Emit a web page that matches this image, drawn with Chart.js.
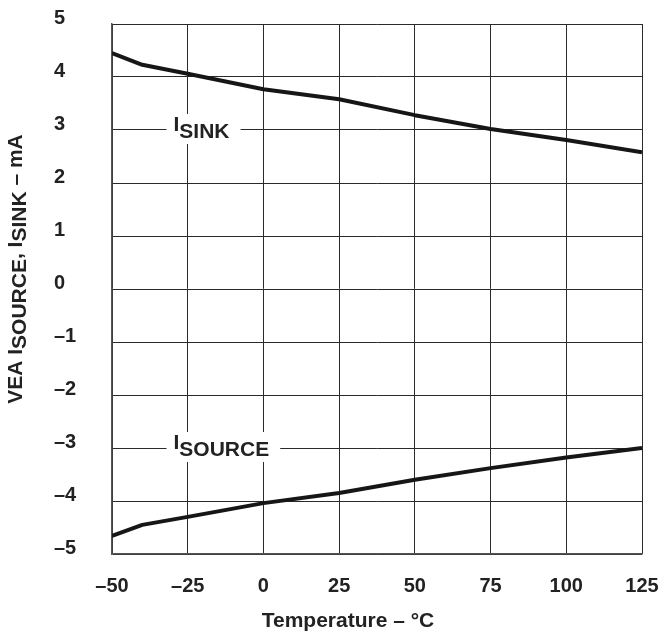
<!DOCTYPE html>
<html>
<head>
<meta charset="utf-8">
<script src="https://cdn.jsdelivr.net/npm/chart.js@4"></script>
<style>
  html, body { margin: 0; padding: 0; background: #fff; }
  #wrap { width: 662px; height: 633px; }
</style>
</head>
<body>
<div id="wrap"><canvas id="chart"></canvas></div>
<script>
// temperature in degC
const temps = [-50, -40, -25, 0, 25, 50, 75, 100, 125];
// VEA currents in mA
const sinkCurrent = [4.45, 4.23, 4.06, 3.77, 3.58, 3.28, 3.02, 2.81, 2.58];
const sourceCurrent = [-4.66, -4.45, -4.30, -4.04, -3.85, -3.60, -3.38, -3.18, -3.00];

const xTicks = [-50, -25, 0, 25, 50, 75, 100, 125];
const yTicks = [-5, -4, -3, -2, -1, 0, 1, 2, 3, 4, 5];

// in-plot labels: [main, subscript, x (degC), y (mA)]
const curveLabels = [
  ['I', 'SINK', -32, 3],
  ['I', 'SOURCE', -32, -3]
];

const FONT = '"Liberation Sans", Arial, sans-serif';

function pairs(ys) {
  return temps.map((t, i) => ({ x: t, y: ys[i] }));
}

// draws a run of [text, dy] parts starting at x
function drawParts(ctx, parts, x, y) {
  parts.forEach(([txt, dy]) => {
    ctx.fillText(txt, x, y + dy);
    x += ctx.measureText(txt).width;
  });
}

function partsWidth(ctx, parts) {
  return parts.reduce((w, p) => w + ctx.measureText(p[0]).width, 0);
}

const labelPlugin = {
  id: 'labels',
  beforeDatasetsDraw(chart) {
    const ctx = chart.ctx;
    const xs = chart.scales.x, ys = chart.scales.y;
    ctx.save();
    ctx.font = 'bold 21px ' + FONT;
    ctx.textBaseline = 'middle';
    ctx.textAlign = 'left';
    curveLabels.forEach(([main, sub, tx, ty]) => {
      const px = xs.getPixelForValue(tx);
      const py = ys.getPixelForValue(ty);
      const parts = [[main, -5], [sub, 2]];
      const w = partsWidth(ctx, parts);
      ctx.fillStyle = '#fff';
      ctx.fillRect(px, py - 16, w + 18, 30);
      ctx.fillStyle = '#222';
      drawParts(ctx, parts, px + 7, py);
    });
    ctx.restore();
  },
  afterDraw(chart) {
    const ctx = chart.ctx;
    const area = chart.chartArea;
    ctx.save();
    ctx.fillStyle = '#222';
    ctx.textBaseline = 'middle';
    ctx.font = 'bold 21px ' + FONT;

    // x axis title
    const xt = [['Temperature – °C', 0]];
    ctx.textAlign = 'left';
    drawParts(ctx, xt, 348 - partsWidth(ctx, xt) / 2, 621);

    // y axis title with subscripts
    const yt = [['VEA ', 0], ['I', 0], ['SOURCE', 4], [', ', 0], ['I', 0], ['SINK', 4], [' – mA', 0]];
    ctx.translate(16, (area.top + area.bottom) / 2 - 20);
    ctx.rotate(-Math.PI / 2);
    drawParts(ctx, yt, -partsWidth(ctx, yt) / 2, 0);
    ctx.restore();
  }
};

const lineStyle = {
  borderColor: '#161616',
  borderWidth: 4,
  borderJoinStyle: 'round',
  pointRadius: 0,
  fill: false,
  tension: 0
};

new Chart(document.getElementById('chart'), {
  type: 'line',
  data: {
    datasets: [
      Object.assign({ label: 'ISINK', data: pairs(sinkCurrent) }, lineStyle),
      Object.assign({ label: 'ISOURCE', data: pairs(sourceCurrent) }, lineStyle)
    ]
  },
  plugins: [labelPlugin],
  options: {
    responsive: true,
    maintainAspectRatio: false,
    animation: false,
    layout: { padding: { left: 54, right: 20, top: 24, bottom: 0 } },
    plugins: { legend: { display: false }, tooltip: { enabled: false } },
    scales: {
      x: {
        type: 'linear',
        min: -50,
        max: 125,
        afterBuildTicks: s => { s.ticks = xTicks.map(v => ({ value: v })); },
        afterFit: s => { s.height = 79; s.paddingLeft = 0; s.paddingRight = 0; },
        grid: { color: '#2a2a2a', lineWidth: 1, drawTicks: false },
        border: { color: '#555', width: 1.5 },
        ticks: {
          padding: 20,
          color: '#222',
          font: { family: FONT, size: 20, weight: 'bold' },
          callback: v => String(v).replace('-', '–')
        }
      },
      y: {
        min: -5,
        max: 5,
        afterBuildTicks: s => { s.ticks = yTicks.map(v => ({ value: v })); },
        afterFit: s => { s.width = 58; s.paddingTop = 0; s.paddingBottom = 0; },
        grid: { color: '#2a2a2a', lineWidth: 1, drawTicks: false },
        border: { color: '#555', width: 1.5 },
        ticks: {
          crossAlign: 'far',
          labelOffset: -6,
          color: '#222',
          font: { family: FONT, size: 20, weight: 'bold' },
          callback: v => String(v).replace('-', '–')
        }
      }
    }
  }
});
</script>
</body>
</html>
